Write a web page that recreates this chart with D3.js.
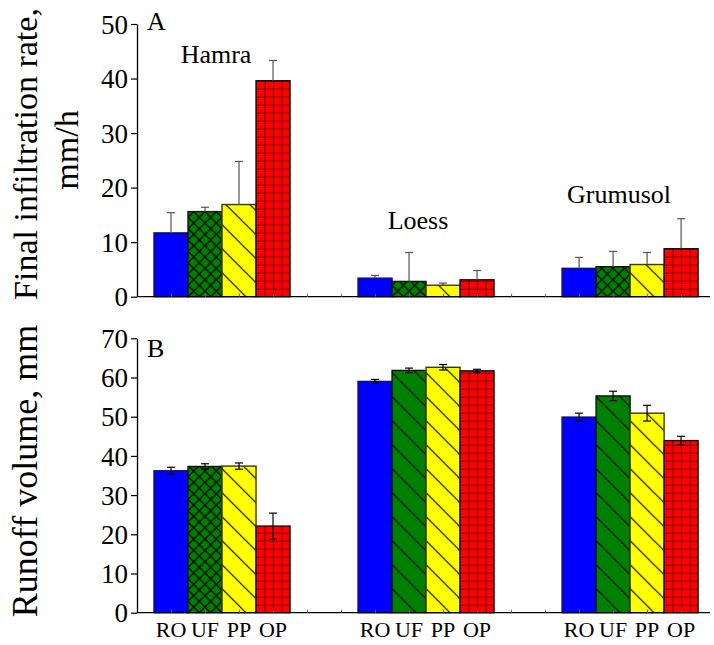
<!DOCTYPE html>
<html><head><meta charset="utf-8">
<script src="https://cdn.jsdelivr.net/npm/d3@7"></script>
<style>body{margin:0;background:#fff}svg{display:block}text{font-family:"Liberation Serif","Times New Roman",serif;fill:#000}</style>
</head><body><svg id="c" width="714" height="645"></svg>
<script>
// ---- data ----
const groups = ["Hamra", "Loess", "Grumusol"];
const treatments = ["RO", "UF", "PP", "OP"];
const infilMean = [[11.7, 15.6, 16.9, 39.6], [3.4, 2.8, 2.1, 3.1], [5.2, 5.5, 5.9, 8.8]];
const infilErr  = [[3.7, 0.8, 7.9, 3.7], [0.5, 5.3, 0.4, 1.7], [2.0, 2.8, 2.2, 5.5]];
const runoffMean = [[36.2, 37.3, 37.4, 22.1], [59.0, 61.8, 62.6, 61.7], [49.9, 55.3, 50.9, 43.9]];
const runoffErr  = [[0.9, 0.7, 0.8, 3.3], [0.5, 0.6, 0.7, 0.4], [1.0, 1.2, 2.0, 1.1]];
const infilTicks = [0, 10, 20, 30, 40, 50];
const runoffTicks = [0, 10, 20, 30, 40, 50, 60, 70];
const colors = ["#0000ff", "#008000", "#ffff00", "#ff0000"];
const patA = ["none", "cross", "diag", "grid"];
const patB = [["none", "cross", "diag", "grid"], ["none", "diag", "diag", "grid"], ["none", "diag", "diag", "grid"]];

const svg = d3.select("#c");
const defs = svg.append("defs");
// slot positions: each group occupies 4 bar slots followed by 2 empty slots
const x = d3.scaleLinear().domain([0, 16.85]).range([137, 710]);
const slotW = x(1) - x(0);
const barW = slotW;
const slot = (g, t) => 1 + g * 6 + t;

let pid = 0;
function makePattern(kind, fill, x0, y0) {
  const id = "p" + (pid++);
  let w, h;
  if (kind === "cross") { w = h = 11.33; }
  else if (kind === "diag") { w = h = 24; }
  else { w = 8.5; h = 8; }
  const p = defs.append("pattern").attr("id", id).attr("patternUnits", "userSpaceOnUse")
    .attr("width", w).attr("height", h).attr("x", x0).attr("y", y0);
  p.append("rect").attr("width", w).attr("height", h).attr("fill", fill);
  let d;
  if (kind === "cross") d = `M0,0L${w},${h}M0,${h}L${w},0M${-w/2},${h/2}L${w/2},${h*1.5}M${w/2},${-h/2}L${w*1.5},${h/2}`;
  else if (kind === "diag") d = `M0,0L${w},${h}M-6,${h-6}L6,${h+6}M${w-6},-6L${w+6},6`;
  else d = `M0,0H${w}M0,0V${h}`;
  p.append("path").attr("d", d).attr("stroke", "#000").attr("stroke-width", kind === "grid" ? 1.1 : 1.2).attr("fill", "none");
  return "url(#" + id + ")";
}

function panel(y, means, errs, ticks, patFor, errDown, errColor) {
  const g = svg.append("g");
  const y0 = y(0);
  // bars
  means.forEach((row, gi) => row.forEach((v, ti) => {
    const cx = x(slot(gi, ti));
    const left = cx - barW / 2;
    const kind = patFor(gi, ti);
    const fill = kind === "none" ? colors[ti] : makePattern(kind, colors[ti], left, y0);
    g.append("rect").attr("x", left).attr("y", y(v)).attr("width", barW).attr("height", y0 - y(v))
      .attr("fill", fill).attr("stroke", ti === 0 ? "#101060" : (ti === 2 ? "#3a3a00" : "#111")).attr("stroke-width", 1.4);
  }));
  // error bars
  means.forEach((row, gi) => row.forEach((v, ti) => {
    const cx = x(slot(gi, ti));
    const e = errs[gi][ti];
    const lo = errDown ? v - e : v;
    g.append("line").attr("x1", cx).attr("x2", cx).attr("y1", y(lo)).attr("y2", y(v + e)).attr("stroke", errColor).attr("stroke-width", 1.2);
    g.append("line").attr("x1", cx - 4).attr("x2", cx + 4).attr("y1", y(v + e)).attr("y2", y(v + e)).attr("stroke", errColor).attr("stroke-width", 1.2);
    if (errDown) g.append("line").attr("x1", cx - 4).attr("x2", cx + 4).attr("y1", y(lo)).attr("y2", y(lo)).attr("stroke", errColor).attr("stroke-width", 1.2);
  }));
  // x baseline + minor ticks
  const xa = g.append("g").attr("transform", `translate(0,${y0})`)
    .call(d3.axisBottom(x).tickValues(d3.range(1, 17)).tickSize(-3).tickFormat(""));
  xa.select(".domain").attr("stroke", "#000").attr("stroke-width", 1.3).attr("d", `M${x(0)},0H${x(16.85)}`);
  xa.selectAll(".tick line").attr("stroke", "#666");
  // y axis
  const ya = g.append("g").attr("transform", `translate(${x(0)},0)`)
    .call(d3.axisLeft(y).tickValues(ticks).tickSize(6).tickSizeOuter(0).tickPadding(3));
  ya.select(".domain").attr("stroke", "#000").attr("stroke-width", 1.3);
  ya.selectAll(".tick line").attr("stroke", "#000").attr("stroke-width", 1.2);
  ya.selectAll(".tick text").attr("font-size", 27).attr("font-family", '"Liberation Serif","Times New Roman",serif').attr("dy", "0.34em");
  return g;
}

const yA = d3.scaleLinear().domain([0, 50]).range([296.7, 24]);
const yB = d3.scaleLinear().domain([0, 70]).range([612.7, 338.3]);

panel(yA, infilMean, infilErr, infilTicks, (g, t) => patA[t], false, "#555");
panel(yB, runoffMean, runoffErr, runoffTicks, (g, t) => patB[g][t], true, "#000");

// panel labels
svg.append("text").attr("x", 147).attr("y", 30).attr("font-size", 26).text("A");
svg.append("text").attr("x", 147).attr("y", 357).attr("font-size", 26).text("B");
// group labels
svg.append("text").attr("x", 216).attr("y", 63).attr("font-size", 26).attr("text-anchor", "middle").text(groups[0]);
svg.append("text").attr("x", 418).attr("y", 229).attr("font-size", 26).attr("text-anchor", "middle").text(groups[1]);
svg.append("text").attr("x", 619).attr("y", 203).attr("font-size", 26).attr("text-anchor", "middle").text(groups[2]);

// x category labels
groups.forEach((gname, gi) => treatments.forEach((t, ti) => {
  svg.append("text").attr("x", x(slot(gi, ti))).attr("y", 637).attr("font-size", 22)
    .attr("text-anchor", "middle").text(t);
}));

// y titles
svg.append("text").attr("transform", "translate(37,154) rotate(-90)").attr("font-size", 34)
  .attr("text-anchor", "middle").text("Final infiltration rate,");
svg.append("text").attr("transform", "translate(78,150) rotate(-90)").attr("font-size", 34)
  .attr("text-anchor", "middle").text("mm/h");
svg.append("text").attr("transform", "translate(37,471) rotate(-90)").attr("font-size", 36)
  .attr("text-anchor", "middle").text("Runoff volume, mm");
</script></body></html>
